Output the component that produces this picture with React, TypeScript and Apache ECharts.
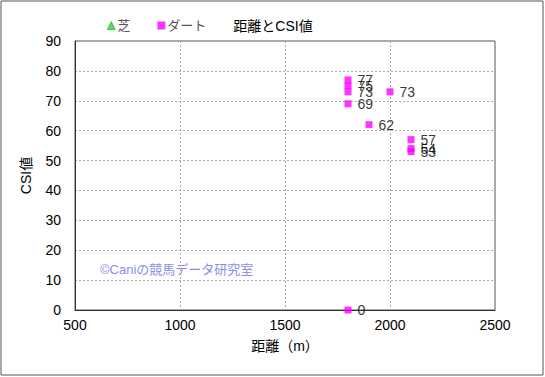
import React, { useEffect, useRef } from "react";
import * as echarts from "echarts";

const turfData: [number, number][] = [];
const dirtDistances = [1800, 1800, 1800, 1800, 2000, 1900, 2100, 2100, 2100, 1800];
const dirtCSI = [77, 75, 73, 69, 73, 62, 57, 54, 53, 0];
const xTicks = { min: 500, max: 2500, interval: 500 };
const yTicks = { min: 0, max: 90, interval: 10 };

const FONT = "Liberation Sans, Noto Sans CJK JP, sans-serif";

export default function App() {
  const ref = useRef<HTMLDivElement>(null);
  useEffect(() => {
    if (!ref.current) return;
    const chart = echarts.init(ref.current, undefined, { renderer: "svg" });
    const dirt = dirtDistances.map((d, i) => [d, dirtCSI[i]]);
    chart.setOption({
      animation: false,
      backgroundColor: "#ffffff",
      textStyle: { fontFamily: FONT },
      title: {
        text: "距離とCSI値",
        left: 268,
        top: 14,
        textAlign: "center",
        textStyle: { fontSize: 14, fontWeight: "normal", color: "#000", fontFamily: FONT },
      },
      legend: {
        left: 102,
        top: 14,
        itemWidth: 8,
        itemHeight: 8,
        itemGap: 27,
        textStyle: { fontSize: 13, color: "#555", fontFamily: FONT, padding: [0, 0, 0, -3] },
        data: [
          {
            name: "芝",
            icon: "triangle",
            itemStyle: { color: "#22dd22", borderColor: "#117711", borderWidth: 0.6 },
          },
          { name: "ダート", icon: "rect", itemStyle: { color: "#ff00ff", borderWidth: 0 } },
        ],
      },
      grid: {
        left: 75,
        right: 50,
        top: 41,
        bottom: 67,
        show: true,
        borderColor: "#555",
        borderWidth: 1,
      },
      xAxis: {
        type: "value",
        min: xTicks.min,
        max: xTicks.max,
        interval: xTicks.interval,
        name: "距離（m）",
        nameLocation: "middle",
        nameGap: 29,
        nameTextStyle: { fontSize: 14, color: "#000", fontFamily: FONT },
        axisLine: { show: true, lineStyle: { color: "#333" } },
        axisTick: { show: false },
        axisLabel: { fontSize: 14, color: "#000", margin: 8, formatter: (v: number) => String(v) },
        splitLine: { show: true, lineStyle: { color: "#aaa", type: [2, 2] } },
      },
      yAxis: {
        type: "value",
        min: yTicks.min,
        max: yTicks.max,
        interval: yTicks.interval,
        name: "CSI値",
        nameLocation: "middle",
        nameGap: 42,
        nameRotate: 90,
        nameTextStyle: { fontSize: 14, color: "#000", fontFamily: FONT },
        axisLine: { show: true, lineStyle: { color: "#333" } },
        axisTick: { show: false },
        axisLabel: { fontSize: 14, color: "#000", margin: 14 },
        splitLine: { show: true, lineStyle: { color: "#aaa", type: [2, 2] } },
      },
      series: [
        {
          name: "芝",
          type: "scatter",
          symbol: "triangle",
          symbolSize: 8,
          itemStyle: { color: "#22dd22", borderColor: "#117711", borderWidth: 0.6 },
          data: turfData,
        },
        {
          name: "ダート",
          type: "scatter",
          symbol: "rect",
          symbolSize: 7,
          itemStyle: { color: "#ff00ff" },
          label: {
            show: true,
            position: "right",
            distance: 6,
            fontSize: 14,
            color: "#000",
            fontFamily: FONT,
            formatter: (p: any) => String(p.value[1]),
          },
          labelLayout: { hideOverlap: false },
          data: dirt,
        },
      ],
      graphic: [
        {
          type: "rect",
          shape: { x: 1, y: 1, width: 542, height: 374 },
          style: { fill: "none", stroke: "#555", lineWidth: 1 },
          silent: true,
        },
        {
          type: "text",
          left: 100,
          top: 263,
          style: {
            text: "©Caniの競馬データ研究室",
            fill: "#8c8cf0",
            fontSize: 13,
            fontFamily: FONT,
          },
          silent: true,
        },
      ],
    });
    return () => chart.dispose();
  }, []);
  return <div ref={ref} style={{ width: 545, height: 377, position: "absolute", left: 0, top: 0 }} />;
}
